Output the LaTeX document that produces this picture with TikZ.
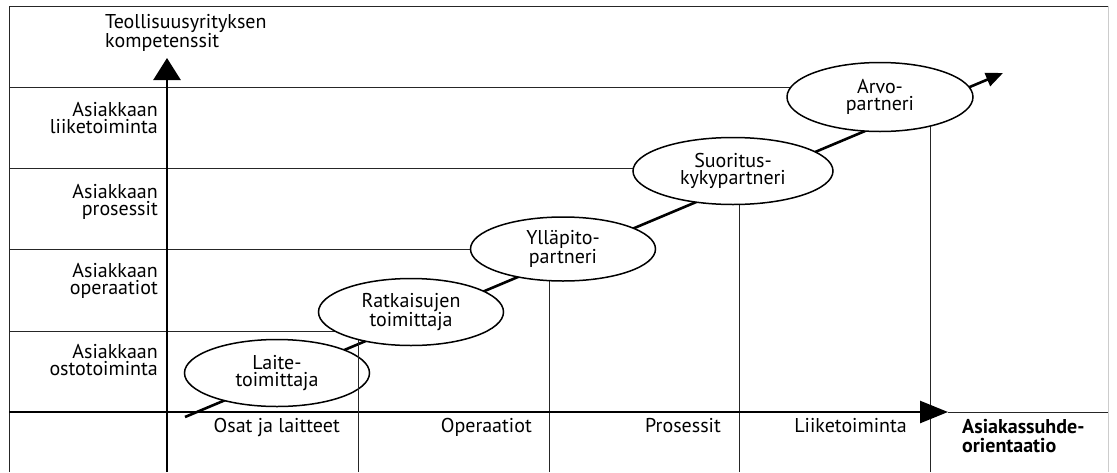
\documentclass[tikz,border=0pt]{standalone}
\usepackage{fontspec}
\setmainfont{PT Sans}
\usetikzlibrary{shapes.geometric,arrows.meta}
\pgfdeclarelayer{background}
\pgfsetlayers{background,main}

\tikzset{
  txt/.style={font=\fontsize{20}{17.5}\selectfont, inner sep=0pt},
  stage/.style={ellipse, draw=black, line width=1.5pt, fill=white, inner sep=0pt,
                align=center, font=\fontsize{20}{17.5}\selectfont},
  grid/.style={draw=black!85, line width=0.9pt},
  axis/.style={draw=black, line width=2.6pt},
  diag/.style={draw=black, line width=2.6pt, -{Triangle[length=17pt,width=14pt]}},
}

\begin{document}
\begin{tikzpicture}[x=1pt, y=-1pt]
  \useasboundingbox (0,0) rectangle (1117,472);

  % stages of the customer relationship
  \node[stage, minimum width=185pt, minimum height=67pt] (ratk) at (411,312) {Ratkaisujen\\toimittaja};
  \node[stage, minimum width=185pt, minimum height=64pt] (ylla) at (563,249) {Ylläpito-\\partneri};
  \node[stage, minimum width=200pt, minimum height=67pt] (suor) at (733,171) {Suoritus-\\kykypartneri};
  \node[stage, minimum width=186pt, minimum height=69pt] (arvo) at (880,97) {Arvo-\\partneri};

  % axis and level labels
  \node[txt, anchor=north west, align=left] (ylab) at (105,14) {Teollisuusyrityksen\\kompetenssit};
  \node[txt, anchor=north east, align=right] (l4) at (158,102) {Asiakkaan\\liiketoiminta};
  \node[txt, anchor=north east, align=right] (l3) at (158,184) {Asiakkaan\\prosessit};
  \node[txt, anchor=north east, align=right] (l2) at (158,263) {Asiakkaan\\operaatiot};
  \node[txt, anchor=north east, align=right] (l1) at (158,344) {Asiakkaan\\ostotoiminta};

  \node[txt, anchor=base east] (c1) at (340,432) {Osat ja laitteet};
  \node[txt, anchor=base east] (c2) at (532,432) {Operaatiot};
  \node[txt, anchor=base east] (c3) at (721,432) {Prosessit};
  \node[txt, anchor=base east] (c4) at (907,432) {Liiketoiminta};
  \node[txt, anchor=north west, align=left, font=\fontsize{20}{19}\selectfont\bfseries] (xlab) at (962,419)
       {Asiakassuhde-\\orientaatio};

  % fixed points of the frame and axes
  \coordinate (tl) at (9,6);
  \coordinate (tr) at (1108,6);
  \coordinate (bl) at (9,472);
  \coordinate (br) at (1108,472);
  \coordinate (yb) at (167,472);
  \coordinate (yt) at (167,58);
  \coordinate (xo) at (9,412);
  \coordinate (xt) at (948,412);
  \coordinate (xr) at (1108,412);
  \coordinate (f1) at (358,472);
  \coordinate (f2) at (549,472);
  \coordinate (f3) at (739,472);
  \coordinate (f4) at (930,472);
  \coordinate (s) at (185,417);
  \coordinate (e) at (1003,73);

  \begin{pgfonlayer}{background}
    % frame
    \draw[grid] (bl) -- (tl) -- (tr);
    \draw[draw=black!20, line width=0.8pt] (tr) -- (br);

    % level lines running into the stages
    \draw[grid] (9,87) -- (arvo.center |- 9,87);
    \draw[grid] (9,168) -- (suor.center |- 9,168);
    \draw[grid] (9,249) -- (ylla.center);
    \draw[grid] (9,331) -- (ratk.center |- 9,331);

    % drop lines from the stages
    \draw[grid] (f2) -- (f2 |- ylla.center);
    \draw[grid] (f3) -- (f3 |- suor.center);
    \draw[grid] (f4) -- (f4 |- arvo.center);

    % axes
    \draw[axis, -{Triangle[length=22pt,width=27pt]}] (yb) -- (yt);
    \draw[axis, -{Triangle[length=28pt,width=22pt]}] (xo) -- (xt);
    \draw[grid] (xt) -- (xr);

    % development path
    \draw[diag] (s) -- (e);

    % first stage
    \node[stage, minimum width=185pt, minimum height=67pt] (laite) at (277,373) {Laite-\\toimittaja};
    \draw[grid] (f1) -- (f1 |- ratk.center);
  \end{pgfonlayer}
\end{tikzpicture}
\end{document}
